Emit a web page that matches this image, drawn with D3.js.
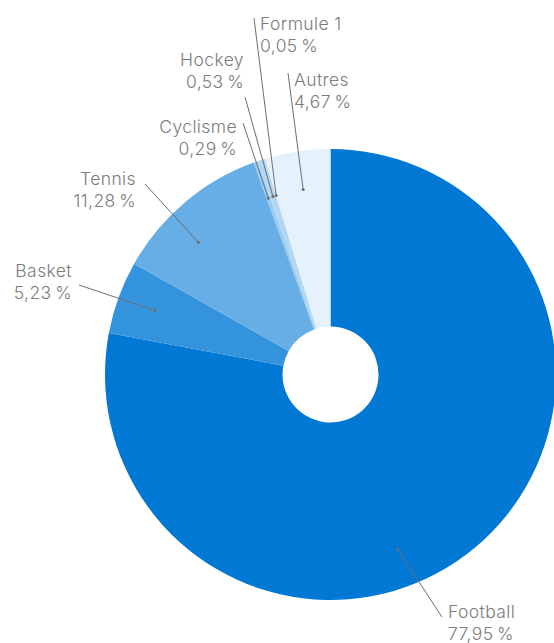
<!DOCTYPE html>
<html>
<head>
<meta charset="utf-8">
<script src="https://cdn.jsdelivr.net/npm/d3@7/dist/d3.min.js"></script>
<style>
  html, body { margin: 0; padding: 0; background: #fff; }
  svg { display: block; }
  text { font-family: "Inter", "Lato", sans-serif; font-weight: 300; fill: #7c7c7c; font-size: 17.5px; letter-spacing: 0.4px; }
</style>
</head>
<body>
<svg id="chart" width="554" height="643"></svg>
<script>
// Share of sports, clockwise from 12 o'clock
const categories = ["Football", "Basket", "Tennis", "Cyclisme", "Hockey", "Formule 1", "Autres"];
const shares = [77.95, 5.23, 11.28, 0.29, 0.53, 0.05, 4.67];
const colors = ["#0078D4", "#3393DD", "#66AEE5", "#99C9EE", "#B2D7F2", "#CCE4F6", "#E5F1FB"];

// Label placement: text anchor, alignment, start of leader line
const labelLayout = {
  "Football":  { tx: 448, ty: 618, align: "start", lx: 442, ly: 617, dotAngle: 159 },
  "Basket":    { tx: 72,  ty: 277, align: "end",   lx: 79,  ly: 285 },
  "Tennis":    { tx: 136, ty: 185, align: "end",   lx: 145, ly: 184, dotAngle: 315 },
  "Cyclisme":  { tx: 237, ty: 133, align: "end",   lx: 243, ly: 123 },
  "Hockey":    { tx: 244, ty: 66,  align: "end",   lx: 245, ly: 97 },
  "Formule 1": { tx: 260, ty: 30,  align: "start", lx: 254, ly: 18 },
  "Autres":    { tx: 294, ty: 86,  align: "start", lx: 288, ly: 73 }
};

const svg = d3.select("#chart");
const cx = 330.5, cy = 374.5;
const outerR = 225.5, innerR = 48, dotR = 187;
const lineGap = 22;

const data = categories.map((c, i) => ({ name: c, value: shares[i], color: colors[i] }));

const pie = d3.pie().value(d => d.value).sort(null);
const arc = d3.arc().innerRadius(innerR).outerRadius(outerR);

const g = svg.append("g").attr("transform", `translate(${cx},${cy})`);
const arcs = pie(data);

g.selectAll("path.slice")
  .data(arcs)
  .join("path")
  .attr("class", "slice")
  .attr("d", arc)
  .attr("fill", d => d.data.color);

const fmt = v => d3.format(".2f")(v).replace(".", ",") + "\u202F%";

// Leader lines and labels
const ann = svg.append("g");
arcs.forEach(a => {
  const L = labelLayout[a.data.name];
  const angDeg = L.dotAngle !== undefined ? L.dotAngle : (a.startAngle + a.endAngle) / 2 * 180 / Math.PI;
  const ang = angDeg * Math.PI / 180;
  const px = cx + dotR * Math.sin(ang);
  const py = cy - dotR * Math.cos(ang);

  ann.append("line")
    .attr("x1", L.lx).attr("y1", L.ly)
    .attr("x2", px).attr("y2", py)
    .attr("stroke", "#6e6e6e").attr("stroke-width", 1);
  ann.append("circle")
    .attr("cx", px).attr("cy", py).attr("r", 1.5)
    .attr("fill", "#6e6e6e");

  const t = ann.append("text")
    .attr("text-anchor", L.align)
    .attr("x", L.tx).attr("y", L.ty);
  t.append("tspan").attr("x", L.tx).text(a.data.name);
  t.append("tspan").attr("x", L.tx).attr("dy", lineGap).text(fmt(a.data.value));
});
</script>
</body>
</html>
